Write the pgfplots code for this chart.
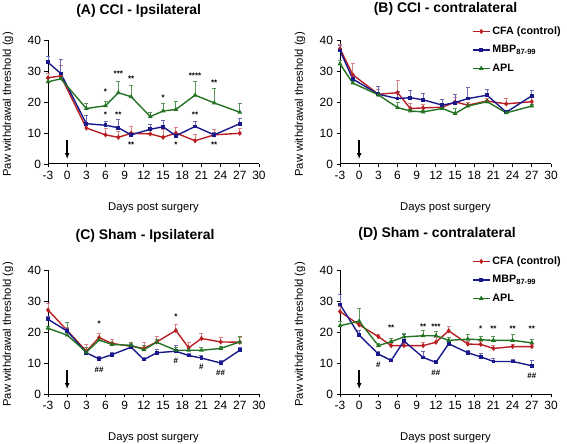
\documentclass[border=0pt]{standalone}
\usepackage{fontspec}
\setmainfont{Liberation Sans}
\usepackage{pgfplots}
\pgfplotsset{compat=1.18}
\usepackage{pgfplotstable}
\usetikzlibrary{arrows.meta}

\definecolor{cfa}{RGB}{185,30,35}
\definecolor{mbp}{RGB}{25,25,140}
\definecolor{apl}{RGB}{35,115,35}

% Panel A: CCI ipsilateral
\pgfplotstableread{
x  ry   re   by   be   gy   ge
-3 27.8 1.5  32.8 1.8  26.5 1.0
-1 28.4 3.3  29.2 4.5  27.5 0.5
3  11.6 1.5  13.0 2.6  17.9 1.8
6  9.4  2.0  12.5 1.1  18.8 1.5
8  8.6  1.9  11.7 2.6  23.0 3.8
10 9.9  2.2  9.4  0.8  21.7 3.5
13 9.7  1.0  11.2 1.5  15.3 1.5
15 8.6  2.5  12.0 2.0  17.1 2.3
17 10.0 1.8  9.1  0.8  17.6 2.7
20 7.5  1.9  12.1 1.5  22.2 4.3
23 9.4  1.9  9.4  0.8  19.7 4.6
27 9.9  1.5  13.0 1.6  16.7 3.0
}\tabA
% Panel B: CCI contralateral
\pgfplotstableread{
x  ry   re   by   be   gy   ge
-3 37.2 1.5  36.6 1.5  32.3 1.0
-1 28.8 3.8  27.4 1.0  26.1 0.5
3  22.5 1.5  22.5 2.4  22.3 0.8
6  23.0 4.1  21.1 2.2  18.2 1.6
8  17.9 1.7  21.4 2.4  17.1 0.6
10 18.1 1.0  20.7 2.1  16.8 0.6
13 18.3 0.8  19.0 1.9  17.9 0.5
15 20.0 1.5  19.8 2.7  16.3 1.5
17 19.0 1.0  21.1 3.6  18.7 0.5
20 20.3 0.8  22.2 1.9  20.1 0.5
23 19.4 1.8  16.7 0.5  16.5 0.5
27 20.1 1.5  22.0 1.6  18.7 0.6
}\tabB
% Panel C: Sham ipsilateral
\pgfplotstableread{
x  ry   re   by   be   gy   ge
-3 27.1 2.1  24.1 1.0  21.2 0.5
0  20.5 1.0  20.3 0.8  19.0 4.0
3  13.8 2.2  13.3 0.8  13.5 1.5
5  18.2 1.5  11.3 0.8  17.4 0.8
7  16.3 1.2  12.7 0.8  16.0 0.8
10 15.4 0.8  15.1 0.8  15.7 1.0
12 14.7 2.0  11.1 0.8  14.3 1.5
14 16.8 1.9  13.3 1.0  16.7 0.8
17 20.5 1.8  13.8 1.8  14.1 0.8
19 14.9 1.6  12.4 0.8  14.1 0.8
21 17.9 1.8  11.6 0.8  14.1 1.0
24 16.8 1.5  10.0 1.0  14.7 0.8
27 16.7 1.5  14.1 0.8  16.8 1.7
}\tabC
% Panel D: Sham contralateral
\pgfplotstableread{
x  ry   re   by   be   gy   ge
-3 26.6 1.5  28.9 3.3  22.0 1.5
0  22.3 0.8  19.0 1.6  23.5 4.0
3  18.5 0.8  12.9 0.8  15.6 0.8
5  15.6 0.8  10.8 0.8  16.9 1.0
7  15.6 0.8  17.1 2.2  18.4 1.0
10 15.6 1.0  11.8 2.0  18.8 1.6
12 16.7 1.5  10.2 0.5  18.8 1.5
14 20.4 1.3  16.2 0.8  17.3 0.8
17 16.1 1.0  13.3 0.9  17.7 1.5
19 16.0 1.0  12.0 1.0  17.5 1.0
21 14.7 1.0  10.5 1.0  17.3 1.3
24 15.3 0.8  10.5 0.8  17.3 1.8
27 15.3 0.8  9.1  1.8  16.5 1.2
}\tabD

\tikzset{ann/.style={font=\bfseries\fontsize{8}{8}\selectfont, inner sep=0pt}}
\pgfplotsset{
 panel/.style={
  scale only axis, width=211bp, height=124bp,
  xmin=-3, xmax=30, ymin=0, ymax=40,
  axis lines=left, axis line style={-, line width=1pt},
  xtick={-3,0,...,30}, ytick={0,10,...,40},
  tick align=outside, major tick length=3.5bp,
  tick style={black, line width=0.9pt},
  /pgf/number format/assume math mode=true,
  ticklabel style={font=\fontsize{12}{13}\selectfont},
  xlabel={Days post surgery}, ylabel={Paw withdrawal threshold (g)},
  label style={font=\fontsize{11.3}{13}\selectfont},
  xlabel style={at={(axis description cs:0.5,-0.35)}, anchor=center},
  ylabel style={at={(axis description cs:-0.19,0.48)}, anchor=center},
  title style={font=\bfseries\fontsize{14}{16}\selectfont, anchor=center},
  clip=false,
  legend style={draw=none, fill=none, at={(axis description cs:1.07,1.14)},
    anchor=north east, font=\bfseries\fontsize{10.8}{12}\selectfont,
    row sep=5.5pt, legend cell align=left},
 },
 cfaS/.style={color=cfa, line width=1.4pt, mark=diamond*, mark size=1.5pt,
   error bars/.cd, y dir=plus, y explicit,
   error bar style={cfa!55, line width=0.8pt},
   error mark options={rotate=90, mark size=2pt, cfa!55, line width=0.8pt}},
 mbpS/.style={color=mbp, line width=1.4pt, mark=square*, mark size=1.2pt,
   error bars/.cd, y dir=plus, y explicit,
   error bar style={mbp!65, line width=0.8pt},
   error mark options={rotate=90, mark size=2pt, mbp!65, line width=0.8pt}},
 aplS/.style={color=apl, line width=1.4pt, mark=triangle*, mark size=1.4pt,
   error bars/.cd, y dir=plus, y explicit,
   error bar style={apl!75, line width=0.8pt},
   error mark options={rotate=90, mark size=2pt, apl!75, line width=0.8pt}},
}
\newcommand{\surgeryarrow}{\draw[-{Latex[length=6pt,width=5pt]}, line width=1.5pt] (axis cs:0,7.6) -- (axis cs:0,1.6);}

\begin{document}
\begin{tikzpicture}
\useasboundingbox (0,0) rectangle (567bp,444bp);

% (A)
\begin{axis}[panel, at={(48bp,280bp)}, anchor=south west,
  title={(A) CCI - Ipsilateral}, title style={at={(axis description cs:0.43,1.19)}}]
\addplot[cfaS] table[x=x, y=ry, y error=re] {\tabA};
\addplot[mbpS] table[x=x, y=by, y error=be] {\tabA};
\addplot[aplS] table[x=x, y=gy, y error=ge] {\tabA};
\surgeryarrow
\node[ann] at (axis cs:6,23.3) {*};
\node[ann] at (axis cs:8,29.0) {***};
\node[ann] at (axis cs:10,27.6) {**};
\node[ann] at (axis cs:15,21.5) {*};
\node[ann] at (axis cs:20,28.5) {****};
\node[ann] at (axis cs:23,26.3) {**};
\node[ann] at (axis cs:6,15.8) {*};
\node[ann] at (axis cs:8,15.8) {**};
\node[ann] at (axis cs:20,15.8) {**};
\node[ann] at (axis cs:10,6.2) {**};
\node[ann] at (axis cs:17,6.2) {*};
\node[ann] at (axis cs:23,6.2) {**};
\end{axis}

% (B)
\begin{axis}[panel, at={(340bp,280bp)}, anchor=south west,
  title={(B) CCI - contralateral}, title style={at={(axis description cs:0.50,1.20)}}]
\addplot[cfaS] table[x=x, y=ry, y error=re] {\tabB};
\addplot[mbpS] table[x=x, y=by, y error=be] {\tabB};
\addplot[aplS] table[x=x, y=gy, y error=ge] {\tabB};
\legend{CFA (control), MBP\textsubscript{87-99}, APL}
\surgeryarrow
\end{axis}

% (C)
\begin{axis}[panel, at={(48bp,50bp)}, anchor=south west,
  title={(C) Sham - Ipsilateral}, title style={at={(axis description cs:0.46,1.23)}}]
\addplot[cfaS] table[x=x, y=ry, y error=re] {\tabC};
\addplot[mbpS] table[x=x, y=by, y error=be] {\tabC};
\addplot[aplS] table[x=x, y=gy, y error=ge] {\tabC};
\surgeryarrow
\node[ann] at (axis cs:5,22.5) {*};
\node[ann] at (axis cs:17,25.0) {*};
\node[ann] at (axis cs:5,7.8) {\#\#};
\node[ann] at (axis cs:17,10.8) {\#};
\node[ann] at (axis cs:21,8.9) {\#};
\node[ann] at (axis cs:24,7.0) {\#\#};
\end{axis}

% (D)
\begin{axis}[panel, at={(340bp,50bp)}, anchor=south west,
  title={(D) Sham - contralateral}, title style={at={(axis description cs:0.46,1.24)}}]
\addplot[cfaS] table[x=x, y=ry, y error=re] {\tabD};
\addplot[mbpS] table[x=x, y=by, y error=be] {\tabD};
\addplot[aplS] table[x=x, y=gy, y error=ge] {\tabD};
\legend{CFA (control), MBP\textsubscript{87-99}, APL}
\surgeryarrow
\node[ann] at (axis cs:5,21.3) {**};
\node[ann] at (axis cs:10,21.8) {**};
\node[ann] at (axis cs:12,21.8) {***};
\node[ann] at (axis cs:19,21.2) {*};
\node[ann] at (axis cs:21,21.1) {**};
\node[ann] at (axis cs:24,21.1) {**};
\node[ann] at (axis cs:27,21.1) {**};
\node[ann] at (axis cs:3,9.4) {\#};
\node[ann] at (axis cs:12,6.9) {\#\#};
\node[ann] at (axis cs:27,6.0) {\#\#};
\end{axis}
\end{tikzpicture}
\end{document}
